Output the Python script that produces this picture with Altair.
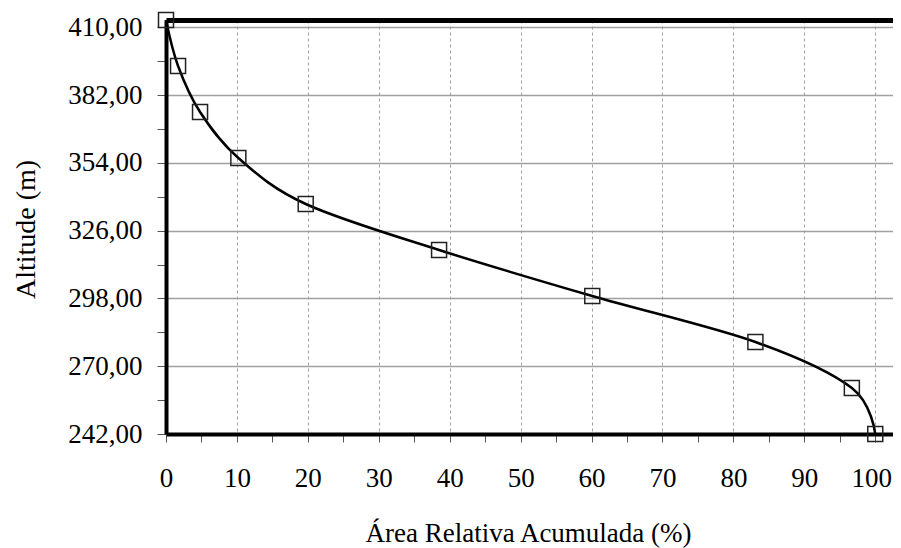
import altair as alt
import pandas as pd

# Hypsometric curve data
area = [0.0, 1.7, 4.8, 10.2, 19.7, 38.5, 60.1, 83.1, 96.7, 100.0]
altitude = [413, 394, 375, 356, 337, 318, 299, 280, 261, 242]
x_ticks = list(range(0, 101, 5))
y_ticks = list(range(242, 411, 14))

df = pd.DataFrame({"area": area, "altitude": altitude})

FONT = "Liberation Serif"

x_scale = alt.Scale(domain=[0, 102.5], nice=False, zero=False)
y_scale = alt.Scale(domain=[242, 413], nice=False, zero=False)

x_axis = alt.Axis(
    values=x_ticks,
    labelExpr="datum.value % 10 === 0 ? datum.label : ''",
    grid=True,
    gridColor="#a0a0a0",
    gridWidth=1,
    gridDash=[3, 3],
    gridOpacity={"condition": {"test": "datum.value % 10 !== 0", "value": 0}, "value": 1},
    domainColor="black",
    domainWidth=4,
    tickColor="#555555",
    tickSize=8,
    tickWidth=1,
    labelPadding=23,
    labelOffset={"condition": {"test": "datum.value === 100", "value": -4}, "value": 0},
    labelFont=FONT,
    labelFontSize=27,
    labelColor="black",
    labelFlush=False,
    labelOverlap=False,
    title="Área Relativa Acumulada (%)",
    titleFont=FONT,
    titleFontSize=27,
    titleFontWeight="normal",
    titleColor="black",
    titleX=362,
    titleY=107,
    titleBaseline="alphabetic",
)

y_axis = alt.Axis(
    values=y_ticks,
    labelExpr="(datum.value - 242) % 28 === 0 ? replace(format(datum.value, '.2f'), '.', ',') : ''",
    grid=True,
    gridColor="#a0a0a0",
    gridWidth=1.5,
    gridOpacity={"condition": {"test": "(datum.value - 242) % 28 !== 0", "value": 0}, "value": 1},
    domainColor="black",
    domainWidth=4,
    tickColor="#555555",
    tickSize=9,
    tickWidth=1,
    labelPadding=15,
    labelFont=FONT,
    labelFontSize=27,
    labelColor="black",
    labelFlush=False,
    labelOverlap=False,
    title="Altitude (m)",
    titleFont=FONT,
    titleFontSize=28,
    titleFontWeight="normal",
    titleColor="black",
    titleX=-126,
    titleY=209,
)

top_axis = alt.Axis(
    orient="top",
    labels=False,
    ticks=False,
    grid=False,
    domainColor="black",
    domainWidth=5,
    title=None,
)

line = alt.Chart(df).mark_line(
    interpolate="cardinal", tension=0.0, color="black", strokeWidth=2.5
).encode(
    x=alt.X("area:Q", scale=x_scale, axis=x_axis),
    y=alt.Y("altitude:Q", scale=y_scale, axis=y_axis),
)

points = alt.Chart(df).mark_point(
    shape="square", size=225, filled=False, color="#222222", strokeWidth=1.5, opacity=1
).encode(
    x=alt.X("area:Q", scale=x_scale, axis=top_axis),
    y=alt.Y("altitude:Q", scale=y_scale, axis=y_axis),
)

chart = (
    alt.layer(line, points)
    .resolve_axis(x="independent")
    .properties(
        width=727,
        height=414,
        autosize=alt.AutoSizeParams(type="none"),
        padding={"left": 158, "top": 12, "right": 0, "bottom": 114},
        background="white",
    )
    .configure_view(stroke=None)
)

chart.save("out.html", embed_options={"renderer": "svg", "actions": False})
